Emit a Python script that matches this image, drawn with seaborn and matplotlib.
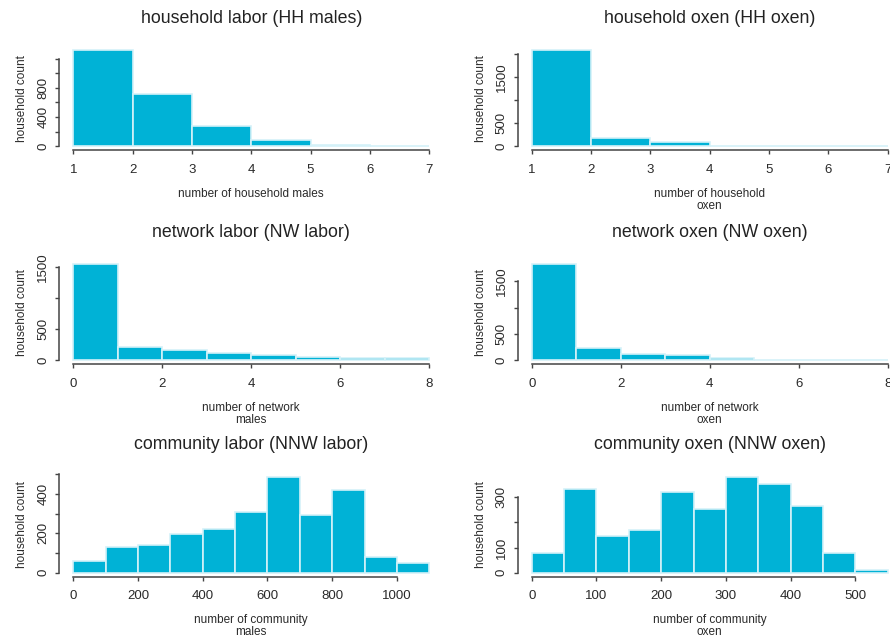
import numpy as np
import matplotlib
matplotlib.use("Agg")
import matplotlib.pyplot as plt
import seaborn as sns

# bin edges and household counts
hh_males_edges = [1, 2, 3, 4, 5, 6, 7]
hh_males_counts = [1316, 717, 271, 83, 15, 5]

hh_oxen_edges = [1, 2, 3, 4, 5, 6, 7]
hh_oxen_counts = [2088, 168, 88, 12, 10, 2]

nw_labor_edges = [0, 1, 2, 3, 4, 5, 6, 7, 8]
nw_labor_counts = [1538, 206, 157, 114, 76, 49, 38, 38]

nw_oxen_edges = [0, 1, 2, 3, 4, 5, 6, 7, 8]
nw_oxen_counts = [1820, 224, 109, 90, 45, 12, 10, 8]

nnw_labor_edges = [0, 100, 200, 300, 400, 500, 600, 700, 800, 900, 1000, 1100]
nnw_labor_counts = [58, 132, 142, 198, 222, 309, 487, 294, 420, 82, 51]

nnw_oxen_edges = [0, 50, 100, 150, 200, 250, 300, 350, 400, 450, 500, 550]
nnw_oxen_counts = [80, 333, 146, 169, 320, 252, 382, 352, 265, 80, 9]

titles = ["household labor (HH males)", "household oxen (HH oxen)",
          "network labor (NW labor)", "network oxen (NW oxen)",
          "community labor (NNW labor)", "community oxen (NNW oxen)"]
xlabels = ["number of household males", "number of household\noxen",
           "number of network\nmales", "number of network\noxen",
           "number of community\nmales", "number of community\noxen"]

# x ticks, y ticks and which y ticks get a label (R drops overlapping ones)
xticks = [[1, 2, 3, 4, 5, 6, 7], [1, 2, 3, 4, 5, 6, 7],
          [0, 2, 4, 6, 8], [0, 2, 4, 6, 8],
          [0, 200, 400, 600, 800, 1000], [0, 100, 200, 300, 400, 500]]
yticks = [[0, 200, 400, 600, 800, 1000, 1200], [0, 500, 1000, 1500, 2000],
          [0, 500, 1000, 1500], [0, 500, 1000, 1500],
          [0, 100, 200, 300, 400, 500], [0, 100, 200, 300]]
ylabeled = [[0, 400, 800], [0, 500, 1500],
            [0, 500, 1500], [0, 500, 1500],
            [0, 200, 400], [0, 100, 300]]

panels = [(hh_males_edges, hh_males_counts), (hh_oxen_edges, hh_oxen_counts),
          (nw_labor_edges, nw_labor_counts), (nw_oxen_edges, nw_oxen_counts),
          (nnw_labor_edges, nnw_labor_counts), (nnw_oxen_edges, nnw_oxen_counts)]

sns.set_style("ticks")
plt.rcParams['font.family'] = ['Liberation Sans', 'DejaVu Sans']

fig = plt.figure(figsize=(8.9, 6.4), dpi=100)
W, H = 890, 640
col_left = [59, 517.5]
col_width = 384.5
row_top = [46.5, 260.5, 473]
row_height = 103.5

bar_color = "#00b2d6"
edge_color = "#d4f1f8"
axis_color = "#444444"
text_color = "#2a2a2a"

for i, (edges, counts) in enumerate(panels):
    r, c = divmod(i, 2)
    ax = fig.add_axes([col_left[c] / W, 1 - (row_top[r] + row_height) / H,
                       col_width / W, row_height / H])
    ax.patch.set_alpha(0)
    starts = edges[:-1]
    sns.histplot(x=starts, weights=counts, bins=edges, stat="count",
                 color=bar_color, alpha=1, edgecolor=edge_color, linewidth=1.2, ax=ax)

    lo, hi = edges[0], edges[-1]
    pad = 0.04 * (hi - lo)
    ax.set_xlim(lo - pad, hi + pad)
    top = max(counts)
    ax.set_ylim(-0.04 * top, 1.04 * top)

    ax.set_xticks(xticks[i])
    ax.set_xticklabels([str(t) for t in xticks[i]])
    ax.set_yticks(yticks[i])
    ax.set_yticklabels([str(t) if t in ylabeled[i] else "" for t in yticks[i]])
    plt.setp(ax.get_yticklabels(), rotation=90, va="center")

    sns.despine(ax=ax)
    ax.spines["left"].set_bounds(yticks[i][0], yticks[i][-1])
    ax.spines["bottom"].set_bounds(xticks[i][0], xticks[i][-1])
    for s in ["left", "bottom"]:
        ax.spines[s].set_color(axis_color)
        ax.spines[s].set_linewidth(1.1)
    ax.tick_params(axis="both", length=3, width=1.0, color=axis_color,
                   labelsize=9.5, labelcolor=text_color)
    ax.tick_params(axis="x", pad=7)
    ax.tick_params(axis="y", pad=4)

    ax.set_title(titles[i], fontsize=12.8, color="#222222", pad=17)
    ax.set_xlabel(xlabels[i], fontsize=8.5, color=text_color, va="top", linespacing=0.95)
    ax.xaxis.set_label_coords(0.5, -38 / row_height)
    ax.set_ylabel("household count", fontsize=8.5, color=text_color)
    ax.yaxis.set_label_coords(-31 / col_width, 0.5)

fig.savefig("out.png", dpi=100)
